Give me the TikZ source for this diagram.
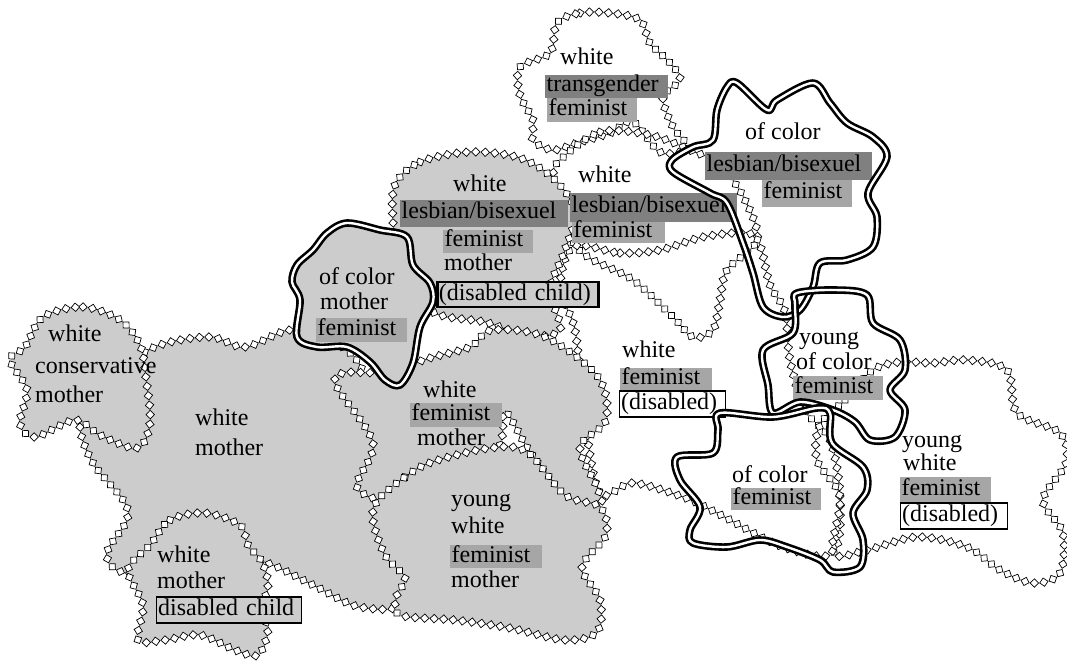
\documentclass[tikz,border=0pt]{standalone}
\usepackage{fontspec}
\setmainfont{Liberation Serif}
\usetikzlibrary{decorations.markings}
\definecolor{blobgray}{gray}{0.8}
\definecolor{hldark}{gray}{0.5}
\definecolor{hllight}{gray}{0.65}
\begin{document}
\begin{tikzpicture}[x=1pt,y=-1pt, font=\fontsize{24}{26}\selectfont,
  diam/.style={draw=black, fill=white, line width=0.7pt, minimum size=6pt, inner sep=0pt, rotate=45, transform shape},
  zz/.style={postaction={decorate}, decoration={markings, mark=between positions 0 and 1 step 9.5pt with {\node[diam]{};}}},
  gblob/.style={fill=blobgray, zz},
  wblob/.style={zz},
  dbl/.style={draw=black, line width=2.6pt, double=white, double distance=2.4pt, line join=round},
  txt/.style={anchor=west, inner xsep=1.5pt, inner ysep=0pt, minimum height=24pt, text height=16pt, text depth=5pt, align=left},
  hld/.style={txt, fill=hldark},
  hll/.style={txt, fill=hllight},
  tbox/.style={txt, draw=black, line width=1.4pt},
]
\useasboundingbox (0,0) rectangle (1067,668);
\def\tn{0.55}
% ---------- white blobs (outline only) ----------
\path[wblob] plot[smooth cycle, tension=\tn] coordinates {(557,23) (580,13) (610,13) (640,20) (650,43) (670,63) (680,80) (663,97) (673,127) (688,148) (660,152) (633,122) (610,133) (577,143) (553,150) (533,140) (533,120) (520,95) (520,67) (550,53)};
\path[wblob] plot[smooth cycle, tension=\tn] coordinates {(560,160) (600,132) (650,135) (690,150) (720,165) (745,200) (757,240) (727,270) (720,300) (713,330) (693,337) (673,317) (633,280) (593,260) (575,245) (553,205) (553,175)};
\path[wblob] plot[smooth cycle, tension=\tn] coordinates {(573,247) (620,253) (660,250) (703,237) (747,233) (760,245) (770,285) (785,312) (790,360) (805,410) (830,440) (840,497) (833,553) (783,547) (717,513) (683,497) (633,483) (600,493) (585,420) (575,330) (560,290)};
\path[wblob] plot[smooth cycle, tension=\tn] coordinates {(820,425) (845,400) (873,370) (900,362) (933,363) (967,360) (1007,370) (1017,413) (1060,433) (1066,463) (1043,500) (1063,533) (1060,573) (1033,583) (1000,570) (967,547) (917,537) (867,550) (833,553) (840,497) (817,460)};
% ---------- gray blobs ----------
\path[gblob] plot[smooth cycle, tension=\tn] coordinates {(80,425) (95,395) (120,368) (160,345) (210,337) (245,347) (290,330) (330,340) (360,365) (375,420) (375,480) (395,520) (405,600) (360,607) (313,585) (267,563) (230,560) (180,575) (122,572) (107,553) (127,520) (123,500) (93,463)};
\path[gblob] plot[smooth cycle, tension=\tn] coordinates {(43,317) (83,307) (120,320) (140,345) (146,378) (150,423) (137,448) (100,435) (75,420) (35,437) (20,423) (27,390) (10,360) (25,347)};
\path[gblob] plot[smooth cycle, tension=\tn] coordinates {(150,545) (170,520) (205,513) (240,525) (248,545) (262,562) (268,585) (262,610) (268,630) (258,655) (235,650) (200,635) (165,640) (138,640) (143,605) (128,570)};
\path[gblob] plot[smooth cycle, tension=\tn] coordinates {(395,185) (420,162) (470,152) (520,158) (555,180) (575,212) (565,250) (550,290) (560,330) (525,335) (485,322) (440,315) (410,295) (398,255) (393,222)};
\path[gblob] plot[smooth cycle, tension=\tn] coordinates {(343,373) (385,372) (430,358) (470,347) (492,330) (545,337) (598,377) (606,420) (580,447) (597,487) (600,505) (565,497) (530,452) (505,412) (498,448) (450,470) (395,500) (357,487) (373,443) (337,387)};
\path[gblob] plot[smooth cycle, tension=\tn] coordinates {(378,500) (405,477) (432,462) (490,448) (527,452) (565,495) (600,507) (606,535) (582,567) (600,600) (597,632) (565,640) (510,628) (455,620) (400,615) (397,595) (405,578) (385,555) (373,520)};
% of color mother feminist
\path[dbl, fill=blobgray] plot[smooth cycle, tension=\tn] coordinates {(297,265) (313,250) (327,233) (347,223) (380,230) (407,237) (413,265) (430,283) (433,302) (420,327) (413,363) (400,385) (385,380) (370,362) (347,347) (317,347) (297,337) (300,300) (292,282)};
% ---------- texts ----------
\node[txt] (g1a) at (46.5,335.5) {white};
\node[txt] (g1b) at (33.5,367.5) {conservative};
\node[txt] (g1c) at (33.5,396.5) {mother};
\node[txt] (g2a) at (193.5,419.5) {white};
\node[txt] (g2b) at (193.5,449.5) {mother};
\node[txt] (g3a) at (155.5,556.5) {white};
\node[txt] (g3b) at (155.5,582.5) {mother};
\node[tbox, fill=blobgray, text width=142pt, minimum height=26pt] (g3c) at (156,610) {disabled child};
\node[txt] (g7a) at (317.5,279) {of color};
\node[txt] (g7b) at (318.5,304) {mother};
\node[hll, text width=88pt, minimum height=24pt] (g7c) at (316,329.5) {feminist};
\node[txt] (g4a) at (451.5,186.5) {white};
\node[hld, text width=165pt, minimum height=27pt] (g4b) at (400,213.5) {lesbian/bisexuel};
\node[hll, text width=87pt, minimum height=23pt] (g4c) at (443,241.5) {feminist};
\node[txt] (g4d) at (442.5,264.5) {mother};
\node[tbox, line width=2.6pt, fill=blobgray, text width=158pt, minimum height=25pt] (g4e) at (436,294.5) {(disabled child)};
\node[txt] (g5a) at (421.5,391.5) {white};
\node[hll, text width=89pt, minimum height=24pt] (g5b) at (410,415) {feminist};
\node[txt] (g5c) at (415.5,439.5) {mother};
\node[txt] (g6a) at (449.5,500.5) {young};
\node[txt] (g6b) at (449.5,527.5) {white};
\node[hll, text width=89pt, minimum height=23pt] (g6c) at (450,556.5) {feminist};
\node[txt] (g6d) at (449.5,581.5) {mother};
\node[txt] (w1a) at (558.5,59.5) {white};
\node[hld, text width=120pt, minimum height=23pt] (w1b) at (545,86.5) {transgender};
\node[hll, text width=87pt, minimum height=24pt] (w1c) at (547,110) {feminist};
\node[txt] (w2a) at (576.5,177.5) {white};
\node[hld, text width=164pt, minimum height=29pt] (w2b) at (570,207.5) {lesbian/bisexuel};
\node[hll, text width=90pt, minimum height=21pt] (w2c) at (572,232.5) {feminist};
\node[txt] (b1a) at (743.5,134.5) {of color};
\node[hld, text width=164pt, minimum height=28pt] (b1b) at (705,166) {lesbian/bisexuel};
\node[hll, text width=87pt, minimum height=27pt] (b1c) at (762,193.5) {feminist};
\node[txt] (w3a) at (620.5,351.5) {white};
\node[hll, text width=89pt, minimum height=22pt] (w3b) at (620,379) {feminist};
\node[tbox, fill=white, text width=103pt, minimum height=26pt] (w3c) at (619,404) {(disabled)};
\node[txt] (b2a) at (797.5,339) {young};
\node[txt] (b2b) at (794.5,363.5) {of color};
\node[hll, text width=87pt, minimum height=24pt] (b2c) at (793,388) {feminist};
\node[txt] (b3a) at (730.5,476.5) {of color};
\node[hll, text width=87pt, minimum height=22pt] (b3b) at (731,499) {feminist};
\node[txt] (w4a) at (900.5,441.5) {young};
\node[txt] (w4b) at (901.5,464.5) {white};
\node[hll, text width=88pt, minimum height=25pt] (w4c) at (900,489.5) {feminist};
\node[tbox, fill=white, text width=104pt, minimum height=26pt] (w4d) at (900,516) {(disabled)};
% ---------- double-line blobs ----------
\path[dbl] plot[smooth cycle, tension=\tn] coordinates {(672,160) (693,147) (713,140) (717,110) (727,87) (737,83) (767,110) (777,100) (813,83) (830,103) (847,123) (873,137) (887,157) (868,193) (877,217) (873,247) (847,260) (820,263) (813,287) (800,310) (783,317) (763,307) (753,273) (743,243) (727,203) (710,193) (673,172)};
\path[dbl] plot[smooth cycle, tension=\tn] coordinates {(797,293) (835,290) (867,295) (873,323) (900,340) (905,370) (890,390) (905,410) (895,437) (870,440) (855,422) (833,410) (800,402) (773,413) (768,385) (763,350) (793,333) (795,305)};
\path[dbl] plot[smooth cycle, tension=\tn] coordinates {(720,413) (773,417) (817,408) (830,413) (832,443) (863,467) (867,490) (853,513) (863,540) (860,567) (833,572) (820,560) (787,547) (760,540) (727,547) (693,543) (690,530) (700,507) (680,480) (677,457) (713,453) (718,430)};
\end{tikzpicture}
\end{document}
